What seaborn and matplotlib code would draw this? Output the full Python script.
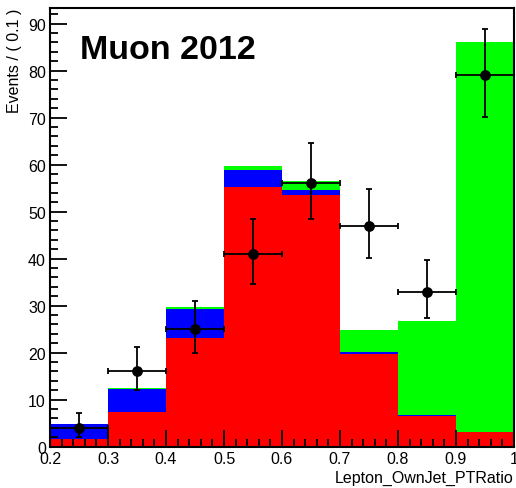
import numpy as np
import matplotlib
matplotlib.use("Agg")
import matplotlib.pyplot as plt
from matplotlib.ticker import MultipleLocator
import seaborn as sns

# Binning of Lepton_OwnJet_PTRatio
bin_edges = [0.2, 0.3, 0.4, 0.5, 0.6, 0.7, 0.8, 0.9, 1.0]
bin_centers = [0.25, 0.35, 0.45, 0.55, 0.65, 0.75, 0.85, 0.95]

# Stacked MC components (events per bin)
red_vals = [1.6, 7.4, 23.1, 55.3, 53.6, 19.7, 6.6, 3.1]
blue_vals = [3.2, 4.9, 6.2, 3.6, 1.1, 0.4, 0.1, 0.1]
green_vals = [0.1, 0.1, 0.4, 0.9, 1.9, 4.8, 20.1, 82.8]

# Data points with asymmetric Poisson errors
data_vals = [4, 16, 25, 41, 56, 47, 33, 79]
err_lo = [1.9, 4.0, 5.0, 6.4, 7.5, 6.8, 5.7, 8.9]
err_hi = [3.2, 5.1, 6.0, 7.4, 8.5, 7.9, 6.8, 9.9]

sns.set_style("ticks")
plt.rcParams["font.family"] = ["Liberation Sans", "DejaVu Sans"]
plt.rcParams.update({
    "text.color": "black",
    "axes.labelcolor": "black",
    "xtick.color": "black",
    "ytick.color": "black",
    "axes.edgecolor": "black",
    "axes.axisbelow": False,
})

fig = plt.figure(figsize=(5.16, 4.89), dpi=100)
ax = fig.add_axes([0.097, 0.0845, 0.899, 0.897])
ax.set_axisbelow(False)

red = np.array(red_vals)
blue = np.array(blue_vals)
green = np.array(green_vals)
layers = [
    (red + blue + green, "#00ff00"),
    (red + blue, "#0000ff"),
    (red, "#ff0000"),
]
for heights, col in layers:
    sns.histplot(x=bin_centers, weights=heights, bins=bin_edges, ax=ax,
                 color=col, alpha=1, linewidth=0, element="bars")

ax.errorbar(bin_centers, data_vals, yerr=[err_lo, err_hi], xerr=0.05,
            fmt="none", ecolor="black", elinewidth=1.3, capsize=2.2,
            capthick=1.3, zorder=4)
sns.scatterplot(x=bin_centers, y=data_vals, ax=ax, color="black", s=60,
                edgecolor="black", linewidth=0, zorder=5)

ax.set_xlim(0.2, 1.0)
ax.set_ylim(0, 93.3)
ax.xaxis.set_major_locator(MultipleLocator(0.1))
ax.xaxis.set_minor_locator(MultipleLocator(0.02))
ax.yaxis.set_major_locator(MultipleLocator(10))
ax.yaxis.set_minor_locator(MultipleLocator(2))
ax.set_xticks([0.2, 0.3, 0.4, 0.5, 0.6, 0.7, 0.8, 0.9, 1.0])
ax.set_xticklabels(["0.2", "0.3", "0.4", "0.5", "0.6", "0.7", "0.8", "0.9", "1"])

ax.tick_params(axis="both", which="both", direction="in", color="black",
               labelcolor="black", width=1.3, labelsize=11.5, pad=3,
               bottom=True, left=True, top=False, right=False)
ax.tick_params(axis="y", which="major", length=12)
ax.tick_params(axis="y", which="minor", length=6)
ax.tick_params(axis="x", which="major", length=12)
ax.tick_params(axis="x", which="minor", length=6)
for t in ax.xaxis.get_major_ticks() + ax.xaxis.get_minor_ticks() + \
        ax.yaxis.get_major_ticks() + ax.yaxis.get_minor_ticks():
    t.tick1line.set_zorder(6)

for sp in ax.spines.values():
    sp.set_visible(True)
    sp.set_linewidth(1.5)
    sp.set_color("black")
    sp.set_zorder(7)

ax.set_xlabel("")
ax.set_ylabel("")
fig.text(0.996, 0.022, "Lepton_OwnJet_PTRatio", ha="right", va="center",
         fontsize=11.5, color="black")
fig.text(0.028, 0.982, "Events / ( 0.1 )", ha="center", va="top",
         rotation=90, fontsize=11.5, color="black")
ax.text(0.065, 0.905, "Muon 2012", transform=ax.transAxes, ha="left",
        va="center", fontsize=24.5, fontweight="bold", color="black")

fig.savefig("out.png", dpi=100)
